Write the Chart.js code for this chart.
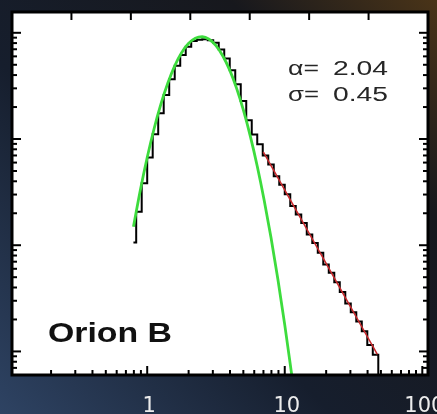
<!DOCTYPE html>
<html>
<head>
<meta charset="utf-8">
<script src="https://cdn.jsdelivr.net/npm/chart.js@4.4.1/dist/chart.umd.min.js"></script>
<style>
  html, body { margin: 0; padding: 0; background: #151c29; overflow: hidden; }
  #wrap { position: relative; width: 437px; height: 414px; }
</style>
</head>
<body>
<div id="wrap"><canvas id="pdfChart" width="437" height="414"></canvas></div>
<script>
// histogram (bin centres, counts), lognormal fit and power-law tail
var binCenters = [0.794, 0.871, 0.955, 1.047, 1.148, 1.259, 1.380, 1.514, 1.660, 1.820,
  1.995, 2.188, 2.399, 2.630, 2.884, 3.162, 3.467, 3.802, 4.169, 4.571,
  5.012, 5.495, 6.026, 6.607, 7.244, 7.943, 8.710, 9.550, 10.47, 11.48,
  12.59, 13.80, 15.14, 16.60, 18.20, 19.95, 21.88, 23.99, 26.30, 28.84,
  31.62, 34.67, 38.02, 41.69, 45.71, 50.12];
var binCounts = [10.6, 20.7, 38.3, 67.0, 111, 175, 259, 366, 489, 618,
  740, 839, 861, 871, 851, 807, 698, 573, 445, 327,
  228, 150, 110, 89.1, 70.0, 57.5, 44.7, 37.2, 30.2, 23.4,
  19.5, 16.2, 12.6, 10.5, 8.5, 6.6, 5.5, 4.47, 3.63, 2.82,
  2.34, 1.91, 1.55, 1.15, 0.93, 0.05];

var fitX = [0.794, 0.891, 1.0, 1.122, 1.259, 1.413, 1.585, 1.778, 1.995, 2.239, 2.512, 2.818,
  3.162, 3.548, 3.981, 4.467, 5.012, 5.623, 6.31, 7.079, 7.943, 8.913, 10.0, 11.22];
var fitY = [14.9, 33.0, 67.0, 125, 214, 337, 489, 649, 793, 890, 918, 869,
  757, 605, 445, 300, 186, 106, 55.5, 26.7, 11.8, 4.79, 1.78, 0.61];

var tailX = [6.98, 47.1];
var tailY = [75.6, 0.94];

// axis ticks
var xTickLabels = [1, 10, 100];
var xMinorTicks = [0.2, 0.3, 0.4, 0.5, 0.6, 0.7, 0.8, 0.9, 2, 3, 4, 5, 6, 7, 8, 9,
  20, 30, 40, 50, 60, 70, 80, 90];
var yMajorTicks = [1, 10, 100, 1000];
var yMinorTicks = [0.7, 0.8, 0.9, 2, 3, 4, 5, 6, 7, 8, 9, 20, 30, 40, 50, 60, 70, 80, 90,
  200, 300, 400, 500, 600, 700, 800, 900];
var topTicks = [1, 2, 3, 4, 5, 6];

var alphaLabel = "α=";
var alphaValue = "2.04";
var sigmaLabel = "σ=";
var sigmaValue = "0.45";
var cloudName = "Orion B";

function pts(xs, ys) {
  return xs.map(function (x, i) { return { x: x, y: ys[i] }; });
}

// draws text squeezed / stretched to a given width
function stretchText(ctx, s, left, base, width, font, color) {
  ctx.save();
  ctx.font = font;
  var w = ctx.measureText(s).width;
  ctx.translate(left, base);
  ctx.scale(width / w, 1);
  ctx.fillStyle = color;
  ctx.textBaseline = "alphabetic";
  ctx.textAlign = "left";
  ctx.fillText(s, 0, 0);
  ctx.restore();
}

var backdrop = {
  id: "backdrop",
  beforeDraw: function (chart) {
    var ctx = chart.ctx, a = chart.chartArea;
    ctx.save();
    var g = ctx.createLinearGradient(0, chart.height, chart.width, 0);
    g.addColorStop(0, "#2e4363");
    g.addColorStop(0.4, "#161e2d");
    g.addColorStop(0.75, "#17181d");
    g.addColorStop(1, "#4a3418");
    ctx.fillStyle = g;
    ctx.fillRect(0, 0, chart.width, chart.height);
    ctx.fillStyle = "#ffffff";
    ctx.fillRect(a.left, a.top, a.right - a.left, a.bottom - a.top);
    ctx.restore();
  }
};

var frame = {
  id: "frame",
  afterDraw: function (chart) {
    var ctx = chart.ctx, a = chart.chartArea;
    var sx = chart.scales.x, sy = chart.scales.y, st = chart.scales.top;
    ctx.save();
    ctx.strokeStyle = "#000";
    ctx.lineWidth = 2;
    function tick(px, py, dx, dy) {
      ctx.beginPath();
      ctx.moveTo(px, py);
      ctx.lineTo(px + dx, py + dy);
      ctx.stroke();
    }
    xTickLabels.forEach(function (v) { tick(sx.getPixelForValue(v), a.bottom, 0, -9); });
    xMinorTicks.forEach(function (v) { tick(sx.getPixelForValue(v), a.bottom, 0, -5); });
    yMajorTicks.forEach(function (v) {
      var p = sy.getPixelForValue(v);
      tick(a.left, p, 9, 0);
      tick(a.right, p, -9, 0);
    });
    yMinorTicks.forEach(function (v) {
      var p = sy.getPixelForValue(v);
      tick(a.left, p, 5, 0);
      tick(a.right, p, -5, 0);
    });
    topTicks.forEach(function (v) { tick(st.getPixelForValue(v), a.top, 0, 8); });

    ctx.lineWidth = 3;
    ctx.strokeRect(a.left, a.top, a.right - a.left, a.bottom - a.top);

    // x tick labels
    ctx.font = "21px 'DejaVu Sans', sans-serif";
    ctx.fillStyle = "#ececec";
    ctx.textAlign = "center";
    ctx.textBaseline = "alphabetic";
    xTickLabels.forEach(function (v) {
      ctx.fillText(String(v), sx.getPixelForValue(v) + 2, 412);
    });

    var f = "20px 'Liberation Sans', Arial, sans-serif";
    stretchText(ctx, alphaLabel, 288, 75, 31, f, "#262626");
    stretchText(ctx, alphaValue, 333, 75, 55, f, "#262626");
    stretchText(ctx, sigmaLabel, 288, 101, 31, f, "#262626");
    stretchText(ctx, sigmaValue, 333, 101, 55, f, "#262626");
    stretchText(ctx, cloudName, 48, 342, 124, "bold 28px 'Liberation Sans', Arial, sans-serif", "#111");
    ctx.restore();
  }
};

var chart = new Chart(document.getElementById("pdfChart"), {
  type: "line",
  data: {
    datasets: [
      {
        label: "lognormal fit",
        data: pts(fitX, fitY),
        borderColor: "#3ddc3d",
        borderWidth: 2.8,
        pointRadius: 0,
        cubicInterpolationMode: "monotone",
        fill: false
      },
      {
        label: "power-law tail",
        data: pts(tailX, tailY),
        borderColor: "#c8282c",
        borderWidth: 1.5,
        pointRadius: 0,
        fill: false
      },
      {
        label: "histogram",
        data: pts(binCenters, binCounts),
        borderColor: "#000",
        borderWidth: 2,
        pointRadius: 0,
        stepped: "middle",
        fill: false
      }
    ]
  },
  options: {
    responsive: false,
    animation: false,
    events: [],
    layout: { padding: { left: 12, top: 12, right: 9, bottom: 39 } },
    plugins: { legend: { display: false }, tooltip: { enabled: false } },
    scales: {
      x: {
        type: "logarithmic",
        position: "bottom",
        display: false,
        min: 0.104,
        max: 110
      },
      top: {
        type: "linear",
        position: "top",
        display: false,
        min: 0,
        max: 7
      },
      y: {
        type: "logarithmic",
        display: false,
        min: 0.637,
        max: 1570
      }
    }
  },
  plugins: [backdrop, frame]
});
</script>
</body>
</html>
